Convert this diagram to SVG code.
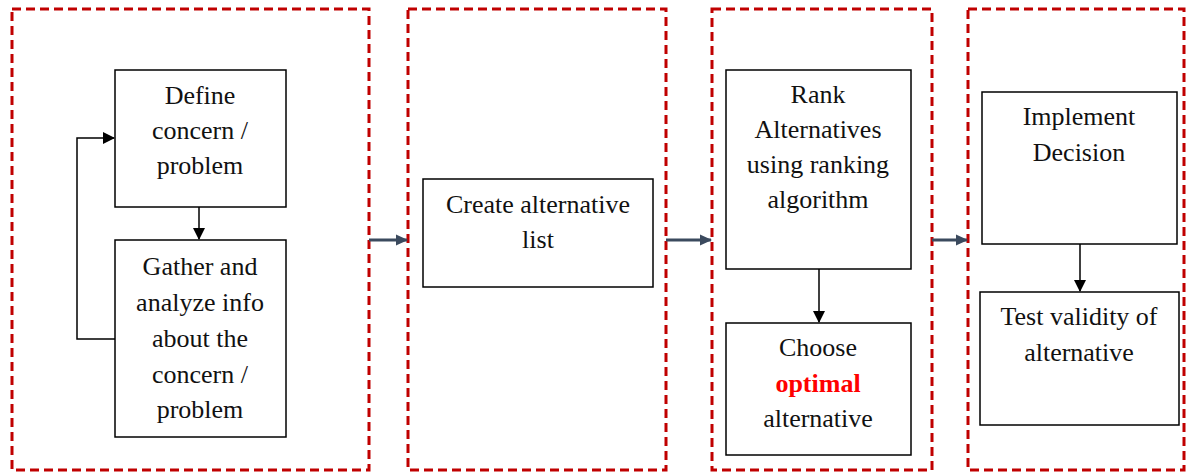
<svg xmlns="http://www.w3.org/2000/svg" width="1187" height="473" viewBox="0 0 1187 473">
<style>
.panel{fill:none;stroke:#c00000;stroke-width:3;stroke-dasharray:9 5}
.box{fill:#fff;stroke:#000;stroke-width:1.5}
.t{font-family:"Liberation Serif","Times New Roman",serif;font-size:26px;fill:#111;text-anchor:middle}
.red{fill:#ff0000;font-weight:bold}
.c{fill:none;stroke:#000;stroke-width:1.5}
.p{fill:none;stroke:#3b4a5e;stroke-width:3}
</style>
<defs>
<marker id="ah" markerWidth="12" markerHeight="12" refX="11" refY="6" orient="auto" markerUnits="userSpaceOnUse">
<path d="M0,0 L12,6 L0,12 Z" fill="#000"/>
</marker>
<marker id="ph" markerWidth="12" markerHeight="12" refX="11" refY="6" orient="auto" markerUnits="userSpaceOnUse">
<path d="M0,0.5 L12,6 L0,11.5 Z" fill="#3b4a5e"/>
</marker>
</defs>
<rect width="1187" height="473" fill="#fff"/>
<g id="panels">
<rect class="panel" x="12" y="9" width="357" height="461"/>
<rect class="panel" x="408" y="9" width="258" height="461"/>
<rect class="panel" x="712" y="9" width="220" height="461"/>
<rect class="panel" x="968" y="9" width="216" height="461"/>
</g>
<g id="connectors">
<path class="c" d="M199,207 V239" marker-end="url(#ah)"/>
<path class="c" d="M117,339 H77 V138 H114" marker-end="url(#ah)"/>
<path class="c" d="M819,269 V322" marker-end="url(#ah)"/>
<path class="c" d="M1080,244 V291" marker-end="url(#ah)"/>
<path class="p" d="M369,240 H407" marker-end="url(#ph)"/>
<path class="p" d="M666,240 H711" marker-end="url(#ph)"/>
<path class="p" d="M932,240 H967" marker-end="url(#ph)"/>
</g>
<g id="define">
<rect class="box" x="115" y="70" width="171" height="137"/>
<text class="t" x="200" y="104">Define</text>
<text class="t" x="200" y="139">concern /</text>
<text class="t" x="200" y="174">problem</text>
</g>
<g id="gather">
<rect class="box" x="115" y="240" width="171" height="197"/>
<text class="t" x="200" y="275">Gather and</text>
<text class="t" x="200" y="311">analyze info</text>
<text class="t" x="200" y="347">about the</text>
<text class="t" x="200" y="383">concern /</text>
<text class="t" x="200" y="418">problem</text>
</g>
<g id="create">
<rect class="box" x="423" y="179" width="230" height="108"/>
<text class="t" x="538" y="213">Create alternative</text>
<text class="t" x="538" y="248">list</text>
</g>
<g id="rank">
<rect class="box" x="726" y="70" width="185" height="199"/>
<text class="t" x="818" y="103">Rank</text>
<text class="t" x="818" y="138">Alternatives</text>
<text class="t" x="818" y="173">using ranking</text>
<text class="t" x="818" y="208">algorithm</text>
</g>
<g id="choose">
<rect class="box" x="726" y="323" width="185" height="132"/>
<text class="t" x="818" y="356">Choose</text>
<text class="t red" x="818" y="392">optimal</text>
<text class="t" x="818" y="427">alternative</text>
</g>
<g id="implement">
<rect class="box" x="982" y="92" width="195" height="152"/>
<text class="t" x="1079" y="125">Implement</text>
<text class="t" x="1079" y="161">Decision</text>
</g>
<g id="test">
<rect class="box" x="980" y="292" width="199" height="133"/>
<text class="t" x="1079" y="325">Test validity of</text>
<text class="t" x="1079" y="361">alternative</text>
</g>
</svg>
